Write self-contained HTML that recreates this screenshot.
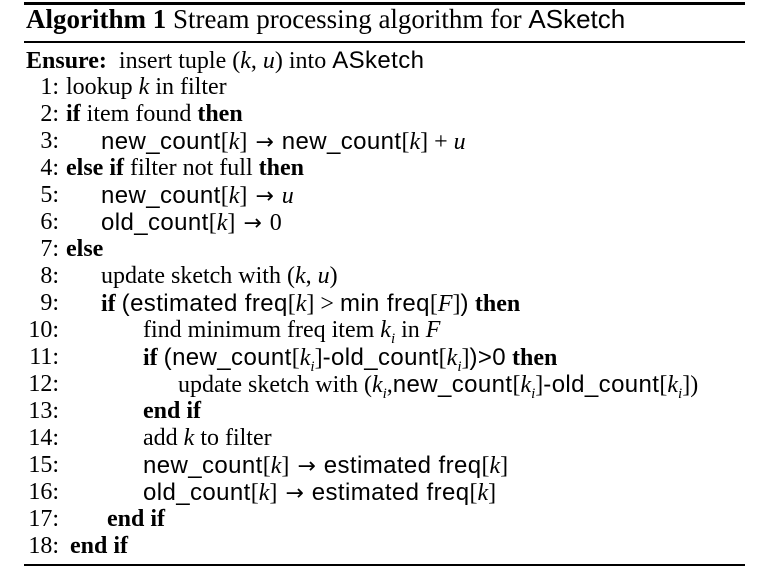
<!DOCTYPE html>
<html><head><meta charset="utf-8"><style>
body{margin:0;width:777px;height:576px;background:#fff;position:relative;overflow:hidden;font-family:"Liberation Serif",serif;font-size:24px;color:#000}
.r{position:absolute;left:24px;width:721px;background:#000}
.l{position:absolute;line-height:27px;height:27px;white-space:nowrap}
.n{position:absolute;left:0;width:59px;text-align:right}
.s{font-family:"Liberation Sans",sans-serif;font-size:24px;letter-spacing:0.4px}
.a{font-family:"DejaVu Sans",sans-serif;font-size:22px;margin:0 2px}
i{font-style:italic}
b{font-weight:bold}
sub{font-size:15px}
</style></head><body>
<div class="r" style="top:2px;height:3px"></div>
<div class="l" style="left:26px;top:6px;font-size:27px"><b>Algorithm 1</b> Stream processing algorithm for <span class="s" style="font-size:26px;letter-spacing:0">ASketch</span></div>
<div class="r" style="top:41px;height:1.5px"></div>
<div class="l" style="left:26px;top:47px"><b>Ensure:</b>&nbsp; insert tuple (<i>k</i>, <i>u</i>) into <span class="s">ASketch</span></div>

<div class="l" style="left:0;top:74px;width:777px"><span class="n">1:</span><span style="position:absolute;left:66px">lookup <i>k</i> in filter</span></div>
<div class="l" style="left:0;top:101px;width:777px"><span class="n">2:</span><span style="position:absolute;left:66px"><b>if</b> item found <b>then</b></span></div>
<div class="l" style="left:0;top:128px;width:777px"><span class="n">3:</span><span style="position:absolute;left:101px"><span class="s">new_count</span>[<i>k</i>] <span class="a">→</span> <span class="s">new_count</span>[<i>k</i>] + <i>u</i></span></div>
<div class="l" style="left:0;top:155px;width:777px"><span class="n">4:</span><span style="position:absolute;left:66px"><b>else if</b> filter not full <b>then</b></span></div>
<div class="l" style="left:0;top:182px;width:777px"><span class="n">5:</span><span style="position:absolute;left:101px"><span class="s">new_count</span>[<i>k</i>] <span class="a">→</span> <i>u</i></span></div>
<div class="l" style="left:0;top:209px;width:777px"><span class="n">6:</span><span style="position:absolute;left:101px"><span class="s">old_count</span>[<i>k</i>] <span class="a">→</span> 0</span></div>
<div class="l" style="left:0;top:236px;width:777px"><span class="n">7:</span><span style="position:absolute;left:66px"><b>else</b></span></div>
<div class="l" style="left:0;top:263px;width:777px"><span class="n">8:</span><span style="position:absolute;left:101px">update sketch with (<i>k</i>, <i>u</i>)</span></div>
<div class="l" style="left:0;top:290px;width:777px"><span class="n">9:</span><span style="position:absolute;left:101px"><b>if</b> <span class="s">(estimated freq</span>[<i>k</i>] &gt; <span class="s">min freq</span>[<i>F</i>]<span class="s">)</span> <b>then</b></span></div>
<div class="l" style="left:0;top:317px;width:777px"><span class="n">10:</span><span style="position:absolute;left:143px">find minimum freq item <i>k<sub>i</sub></i> in <i>F</i></span></div>
<div class="l" style="left:0;top:344px;width:777px"><span class="n">11:</span><span style="position:absolute;left:143px"><b>if</b> <span class="s">(new_count</span>[<i>k<sub>i</sub></i>]<span class="s">-old_count</span>[<i>k<sub>i</sub></i>]<span class="s">)&gt;0</span> <b>then</b></span></div>
<div class="l" style="left:0;top:371px;width:777px"><span class="n">12:</span><span style="position:absolute;left:178px">update sketch with (<i>k<sub>i</sub></i>,<span class="s">new_count</span>[<i>k<sub>i</sub></i>]<span class="s">-old_count</span>[<i>k<sub>i</sub></i>])</span></div>
<div class="l" style="left:0;top:398px;width:777px"><span class="n">13:</span><span style="position:absolute;left:143px"><b>end if</b></span></div>
<div class="l" style="left:0;top:425px;width:777px"><span class="n">14:</span><span style="position:absolute;left:143px">add <i>k</i> to filter</span></div>
<div class="l" style="left:0;top:452px;width:777px"><span class="n">15:</span><span style="position:absolute;left:143px"><span class="s">new_count</span>[<i>k</i>] <span class="a">→</span> <span class="s">estimated freq</span>[<i>k</i>]</span></div>
<div class="l" style="left:0;top:479px;width:777px"><span class="n">16:</span><span style="position:absolute;left:143px"><span class="s">old_count</span>[<i>k</i>] <span class="a">→</span> <span class="s">estimated freq</span>[<i>k</i>]</span></div>
<div class="l" style="left:0;top:506px;width:777px"><span class="n">17:</span><span style="position:absolute;left:107px"><b>end if</b></span></div>
<div class="l" style="left:0;top:533px;width:777px"><span class="n">18:</span><span style="position:absolute;left:70px"><b>end if</b></span></div>
<div class="r" style="top:564px;height:1.5px"></div>
</body></html>
